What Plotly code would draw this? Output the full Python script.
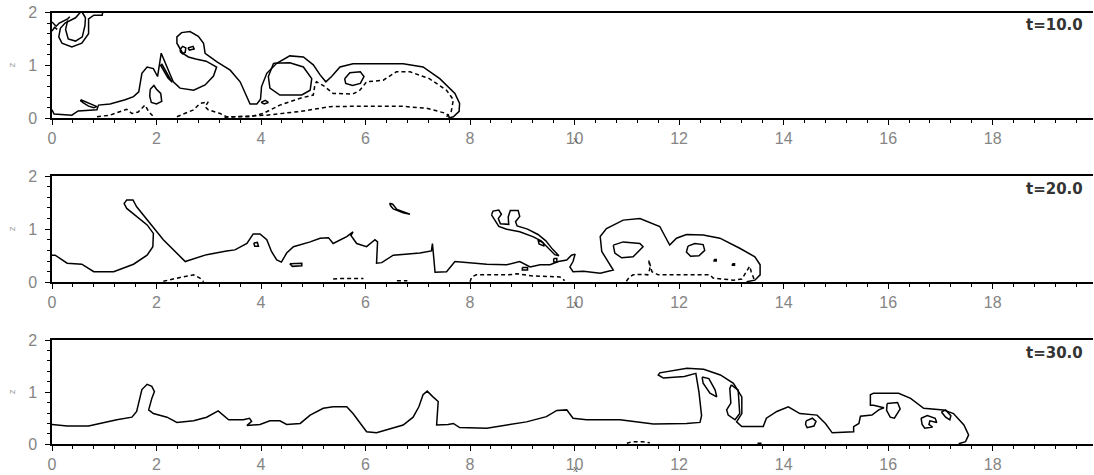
import plotly.graph_objects as go

# ---------------------------------------------------------------------------
# Density contours of a lock-exchange gravity current at three times.
# Each contour is a list of (x, z) points; solid = interface level,
# dashed = dense-core level.
# ---------------------------------------------------------------------------

TIMES = ["t=10.0", "t=20.0", "t=30.0"]
X_TICKS = [0, 2, 4, 6, 8, 10, 12, 14, 16, 18]
Z_TICKS = [0, 1, 2]

# ---- t = 10 ---------------------------------------------------------------
T10_OUTLINE = [(0.0, 0.16), (0.04, 0.08), (0.38, 0.06), (0.50, 0.14), (0.86, 0.16),
               (0.89, 0.25), (1.11, 0.27), (1.40, 0.35), (1.56, 0.41), (1.66, 0.50),
               (1.72, 0.85), (1.82, 0.97), (1.94, 0.94), (2.02, 0.79), (2.09, 1.23),
               (2.20, 0.97), (2.32, 0.69), (2.45, 0.57), (2.71, 0.53), (2.93, 0.63),
               (3.09, 0.80), (3.15, 0.97), (2.95, 1.08), (2.75, 1.12), (2.61, 1.16),
               (2.50, 1.23), (2.39, 1.42), (2.39, 1.54), (2.48, 1.62), (2.64, 1.64),
               (2.80, 1.55), (2.90, 1.42), (2.93, 1.23), (3.15, 1.07), (3.41, 0.91),
               (3.60, 0.69), (3.73, 0.41), (3.79, 0.27), (3.92, 0.27), (3.99, 0.36),
               (4.01, 0.60), (4.11, 0.85), (4.30, 1.04), (4.55, 1.18), (4.81, 1.16),
               (5.00, 1.01), (5.13, 0.82), (5.24, 0.69), (5.35, 0.79), (5.51, 0.97),
               (5.76, 1.03), (6.72, 1.03), (7.10, 0.97), (7.42, 0.75), (7.71, 0.47),
               (7.80, 0.28), (7.79, 0.13), (7.68, 0.03), (7.58, 0.0)]
T10_EYE_A = [(2.45, 1.30), (2.50, 1.36), (2.56, 1.33), (2.55, 1.25), (2.50, 1.22), (2.46, 1.25)]
T10_EYE_B = [(2.60, 1.33), (2.70, 1.36), (2.72, 1.31), (2.63, 1.29)]
T10_ROLL = [(4.24, 1.04), (4.55, 1.05), (4.81, 0.97), (4.97, 0.75), (4.94, 0.53),
            (4.78, 0.44), (4.36, 0.44), (4.17, 0.57), (4.14, 0.79)]
T10_ROLL_SMALL = [(5.60, 0.75), (5.70, 0.86), (5.90, 0.88), (5.97, 0.79), (5.90, 0.66),
                  (5.75, 0.62), (5.62, 0.66)]
T10_BLOB = [(1.88, 0.55), (1.95, 0.62), (2.00, 0.55), (2.08, 0.47), (2.10, 0.32),
            (2.00, 0.27), (1.90, 0.30), (1.87, 0.42)]
T10_SLIVER = [(2.10, 1.03), (2.18, 0.88), (2.30, 0.68), (2.22, 0.76), (2.12, 0.92), (2.08, 1.00)]
T10_TOP_OUTER = [(0.54, 2.0), (0.45, 1.90), (0.25, 1.80), (0.16, 1.70), (0.13, 1.54),
                 (0.19, 1.42), (0.38, 1.35), (0.57, 1.42), (0.70, 1.60), (0.70, 1.88),
                 (0.80, 1.95), (0.96, 1.95), (0.97, 2.0)]
T10_TOP_INNER = [(0.30, 1.85), (0.26, 1.68), (0.31, 1.50), (0.45, 1.46), (0.58, 1.54),
                 (0.63, 1.75), (0.64, 1.90), (0.58, 2.0)]
T10_TOP_EDGE = [(0.0, 1.82), (0.08, 1.74), (0.14, 1.80), (0.22, 1.84), (0.30, 1.88), (0.34, 1.92)]
T10_TOP_EDGE_B = [(0.0, 1.65), (0.05, 1.72), (0.10, 1.68)]
T10_TAIL = [(0.55, 0.35), (0.62, 0.32), (0.70, 0.28), (0.80, 0.25), (0.86, 0.22),
            (0.80, 0.20), (0.70, 0.23), (0.60, 0.29), (0.55, 0.33)]
T10_SPECK = [(4.00, 0.30), (4.08, 0.34), (4.14, 0.30), (4.06, 0.27)]
T10_CORE_A = [(0.86, 0.03), (1.11, 0.06), (1.43, 0.17), (1.53, 0.09), (1.65, 0.12),
              (1.78, 0.25), (1.85, 0.13), (1.94, 0.03)]
T10_CORE_B = [(2.39, 0.03), (2.71, 0.16), (2.83, 0.28), (2.99, 0.31), (2.93, 0.22),
              (2.99, 0.16), (3.22, 0.09), (3.34, 0.03), (3.79, 0.03), (4.04, 0.09),
              (4.36, 0.25), (4.75, 0.38), (5.00, 0.44), (5.03, 0.63), (5.06, 0.69),
              (5.22, 0.60), (5.38, 0.47), (5.76, 0.46), (5.89, 0.53), (6.02, 0.69),
              (6.34, 0.72), (6.59, 0.88), (6.85, 0.88), (7.22, 0.75), (7.55, 0.53),
              (7.68, 0.35), (7.64, 0.13), (7.55, 0.03)]
T10_CORE_C = [(3.30, 0.02), (4.11, 0.06), (4.75, 0.13), (5.32, 0.22), (6.02, 0.23),
              (6.66, 0.23), (7.17, 0.19), (7.55, 0.09), (7.61, 0.02)]

# ---- t = 20 ---------------------------------------------------------------
T20_OUTLINE = [(0.0, 0.51), (0.06, 0.51), (0.29, 0.36), (0.57, 0.34), (0.80, 0.20),
               (1.18, 0.20), (1.56, 0.34), (1.82, 0.51), (1.93, 0.67), (1.94, 0.92),
               (1.82, 1.08), (1.43, 1.39), (1.38, 1.48), (1.43, 1.55), (1.55, 1.55),
               (1.62, 1.42), (2.13, 0.80), (2.55, 0.39), (2.64, 0.42), (2.96, 0.52),
               (3.34, 0.59), (3.50, 0.61), (3.73, 0.73), (3.85, 0.91), (3.98, 0.91),
               (4.11, 0.80), (4.20, 0.58), (4.30, 0.42), (4.39, 0.38), (4.49, 0.55),
               (4.62, 0.67), (4.94, 0.76), (5.13, 0.83), (5.29, 0.84), (5.38, 0.73),
               (5.64, 0.86), (5.76, 0.95), (5.72, 0.88), (5.83, 0.73), (6.02, 0.67),
               (6.18, 0.80), (6.23, 0.76), (6.21, 0.36), (6.31, 0.37), (6.53, 0.51),
               (7.04, 0.55), (7.26, 0.59), (7.28, 0.73), (7.33, 0.19), (7.55, 0.20),
               (7.71, 0.39), (8.00, 0.36), (8.32, 0.34), (8.70, 0.33), (8.95, 0.39),
               (9.15, 0.29), (9.34, 0.33), (9.53, 0.33), (9.69, 0.39), (9.85, 0.42),
               (9.94, 0.51), (10.01, 0.53), (9.97, 0.39), (9.91, 0.29), (9.97, 0.20),
               (10.17, 0.21), (10.49, 0.17), (10.74, 0.23), (10.68, 0.33), (10.52, 0.58),
               (10.49, 0.86), (10.61, 1.01), (10.93, 1.17), (11.25, 1.20), (11.63, 1.05),
               (11.82, 0.70), (11.95, 0.83), (12.14, 0.90), (12.46, 0.89), (12.78, 0.83),
               (13.16, 0.64), (13.45, 0.48), (13.55, 0.33), (13.55, 0.14), (13.45, 0.04),
               (13.29, 0.01)]
T20_EYE_A = [(10.74, 0.70), (10.93, 0.76), (11.25, 0.73), (11.31, 0.67), (11.12, 0.48),
             (10.90, 0.46), (10.77, 0.55)]
T20_EYE_B = [(12.17, 0.68), (12.30, 0.73), (12.46, 0.71), (12.49, 0.60), (12.38, 0.50),
             (12.22, 0.49), (12.14, 0.57)]
T20_PLUME = [(8.41, 1.27), (8.44, 1.34), (8.55, 1.36), (8.60, 1.28), (8.54, 1.20),
             (8.58, 1.10), (8.74, 1.09), (8.73, 1.23), (8.77, 1.35), (8.92, 1.35),
             (8.95, 1.24), (8.87, 1.14), (8.90, 1.06), (9.10, 1.00), (9.30, 0.90),
             (9.45, 0.78), (9.58, 0.62), (9.70, 0.50), (9.62, 0.52), (9.50, 0.64),
             (9.36, 0.78), (9.20, 0.86), (8.95, 0.95), (8.70, 1.00), (8.55, 1.05),
             (8.48, 1.16)]
T20_PLUME_BIT_A = [(9.30, 0.80), (9.40, 0.74), (9.42, 0.68), (9.32, 0.72)]
T20_PLUME_BIT_B = [(9.60, 0.45), (9.66, 0.45), (9.66, 0.38), (9.60, 0.38)]
T20_PLUME_BIT_C = [(9.00, 0.28), (9.10, 0.28), (9.10, 0.23), (9.00, 0.23)]
T20_WISP = [(6.46, 1.49), (6.52, 1.47), (6.60, 1.37), (6.85, 1.28), (6.72, 1.31),
            (6.53, 1.38), (6.48, 1.44)]
T20_DOT_A = [(3.86, 0.74), (3.93, 0.75), (3.95, 0.68), (3.88, 0.68)]
T20_DOT_B = [(4.55, 0.35), (4.78, 0.36), (4.78, 0.31), (4.60, 0.30)]
T20_DOT_C = [(12.67, 0.43), (12.71, 0.43), (12.71, 0.40), (12.67, 0.40)]
T20_DOT_D = [(13.02, 0.35), (13.06, 0.35), (13.06, 0.32), (13.02, 0.32)]
T20_CORE_A = [(2.13, 0.02), (2.30, 0.05), (2.45, 0.09), (2.60, 0.12), (2.71, 0.14),
              (2.83, 0.08), (2.90, 0.01)]
T20_CORE_B = [(5.38, 0.06), (5.50, 0.07), (5.96, 0.07)]
T20_CORE_C = [(6.60, 0.03), (6.80, 0.03)]
T20_CORE_D = [(8.00, 0.01), (8.03, 0.10), (8.12, 0.14), (8.50, 0.14), (8.73, 0.14),
              (8.90, 0.16), (9.20, 0.12), (9.72, 0.10), (9.81, 0.03)]
T20_CORE_E = [(10.99, 0.02), (11.05, 0.10), (11.12, 0.14), (11.30, 0.15), (11.40, 0.14),
              (11.44, 0.25), (11.42, 0.42), (11.48, 0.20), (11.60, 0.14), (11.82, 0.14),
              (12.20, 0.14), (12.59, 0.14), (12.65, 0.08), (13.04, 0.04), (13.20, 0.06),
              (13.30, 0.22), (13.35, 0.30), (13.38, 0.20), (13.45, 0.02)]

# ---- t = 30 ---------------------------------------------------------------
T30_OUTLINE = [(0.0, 0.38), (0.29, 0.35), (0.70, 0.35), (0.92, 0.40), (1.24, 0.47),
               (1.53, 0.52), (1.62, 0.63), (1.72, 1.05), (1.82, 1.15), (1.91, 1.11),
               (1.96, 1.01), (1.91, 0.88), (1.85, 0.66), (1.94, 0.59), (2.20, 0.52),
               (2.39, 0.42), (2.71, 0.45), (2.96, 0.52), (3.18, 0.64), (3.38, 0.47),
               (3.66, 0.47), (3.78, 0.50), (3.82, 0.44), (3.73, 0.36), (3.98, 0.38),
               (4.17, 0.45), (4.36, 0.45), (4.49, 0.38), (4.75, 0.40), (4.94, 0.56),
               (5.19, 0.69), (5.38, 0.72), (5.64, 0.72), (5.76, 0.59), (6.02, 0.24),
               (6.21, 0.22), (6.46, 0.29), (6.72, 0.37), (6.91, 0.52), (7.02, 0.72),
               (7.10, 0.95), (7.18, 1.02), (7.29, 0.91), (7.39, 0.82), (7.36, 0.37),
               (7.58, 0.38), (7.68, 0.40), (7.80, 0.32), (8.32, 0.31), (8.70, 0.37),
               (9.08, 0.43), (9.46, 0.53), (9.66, 0.65), (9.85, 0.66), (9.97, 0.50),
               (10.23, 0.47), (10.87, 0.47), (11.51, 0.39), (12.14, 0.40), (12.40, 0.42),
               (12.43, 0.55), (12.38, 1.00), (12.32, 1.36), (12.10, 1.30), (11.70, 1.27),
               (11.60, 1.33), (11.63, 1.37), (12.15, 1.46), (12.47, 1.44), (12.79, 1.33),
               (13.04, 1.17), (13.20, 0.91), (13.20, 0.59), (13.10, 0.43), (13.20, 0.34),
               (13.61, 0.34), (13.67, 0.50), (13.87, 0.63), (14.09, 0.72), (14.31, 0.59),
               (14.64, 0.56), (14.80, 0.40), (14.93, 0.22), (15.34, 0.24), (15.34, 0.34),
               (15.44, 0.40), (15.47, 0.54), (15.69, 0.56), (15.82, 0.66), (15.92, 0.70),
               (15.72, 0.75), (15.66, 0.75), (15.66, 0.95), (15.72, 0.98), (16.20, 0.98),
               (16.43, 0.88), (16.68, 0.69), (17.06, 0.66), (17.25, 0.59), (17.45, 0.37),
               (17.54, 0.18), (17.48, 0.05), (17.35, 0.01)]
T30_ARM_EYE = [(12.44, 1.29), (12.57, 1.26), (12.69, 1.04), (12.72, 0.91), (12.59, 0.98),
               (12.46, 1.17)]
T30_CURTAIN = [(13.00, 1.14), (13.13, 1.04), (13.16, 0.59), (13.07, 0.47), (12.94, 0.56),
               (12.91, 0.66), (12.99, 0.79), (12.97, 1.07)]
T30_POCKET = [(14.43, 0.45), (14.55, 0.50), (14.62, 0.44), (14.58, 0.35), (14.45, 0.32),
              (14.42, 0.38)]
T30_HOOK_EYE = [(15.98, 0.78), (16.18, 0.80), (16.23, 0.68), (16.12, 0.50), (16.04, 0.52),
                (15.97, 0.65)]
T30_SQUIGGLE = [(16.63, 0.50), (16.75, 0.55), (16.90, 0.50), (16.93, 0.42), (16.80, 0.45),
                (16.78, 0.38), (16.85, 0.33), (16.70, 0.31), (16.65, 0.38)]
T30_SLIT = [(17.02, 0.62), (17.10, 0.66), (17.20, 0.55), (17.18, 0.47), (17.10, 0.52)]
T30_CORE_A = [(11.00, 0.02), (11.10, 0.05), (11.30, 0.05), (11.44, 0.03)]
T30_CORE_B = [(13.50, 0.02), (13.62, 0.02)]

# (curve, closed?, dashed?) per panel
PANELS = [
    [(T10_OUTLINE, False, False), (T10_EYE_A, True, False), (T10_EYE_B, True, False),
     (T10_ROLL, True, False), (T10_ROLL_SMALL, True, False), (T10_BLOB, True, False),
     (T10_SLIVER, True, False), (T10_TOP_OUTER, False, False), (T10_TOP_INNER, False, False),
     (T10_TOP_EDGE, False, False), (T10_TOP_EDGE_B, False, False), (T10_TAIL, True, False),
     (T10_SPECK, True, False), (T10_CORE_A, False, True), (T10_CORE_B, False, True),
     (T10_CORE_C, False, True)],
    [(T20_OUTLINE, False, False), (T20_EYE_A, True, False), (T20_EYE_B, True, False),
     (T20_PLUME, True, False), (T20_PLUME_BIT_A, True, False), (T20_PLUME_BIT_B, True, False),
     (T20_PLUME_BIT_C, True, False), (T20_WISP, True, False), (T20_DOT_A, True, False),
     (T20_DOT_B, True, False), (T20_DOT_C, True, False), (T20_DOT_D, True, False),
     (T20_CORE_A, False, True), (T20_CORE_B, False, True), (T20_CORE_C, False, True),
     (T20_CORE_D, False, True), (T20_CORE_E, False, True)],
    [(T30_OUTLINE, False, False), (T30_ARM_EYE, True, False), (T30_CURTAIN, True, False),
     (T30_POCKET, True, False), (T30_HOOK_EYE, True, False), (T30_SQUIGGLE, True, False),
     (T30_SLIT, True, False), (T30_CORE_A, False, True), (T30_CORE_B, False, True)],
]

W, H = 1094, 475
ML, MR = 52, 1
# vertical pixel extent (top, bottom) of each panel's plotting area
PANEL_PX = [(12.5, 118.3), (176.0, 282.3), (340.0, 444.3)]
X_LABEL_PY = [140, 304, 469]

TICK_GREY = "#858585"


def px_to_paper_x(px):
    return (px - ML) / (W - ML - MR)


def px_to_paper_y(py):
    return 1 - py / H


fig = go.Figure()
layout = dict(
    width=W, height=H,
    margin=dict(l=ML, r=MR, t=0, b=0, autoexpand=False),
    paper_bgcolor="white", plot_bgcolor="white",
    showlegend=False,
    annotations=[],
)

for i, curves in enumerate(PANELS):
    k = "" if i == 0 else str(i + 1)
    for pts, closed, dashed in curves:
        seq = list(pts) + ([pts[0]] if closed else [])
        fig.add_trace(go.Scatter(
            x=[p[0] for p in seq], y=[p[1] for p in seq],
            mode="lines",
            line=dict(color="black", width=1.5, dash="4px,3px" if dashed else "solid"),
            xaxis="x" + k, yaxis="y" + k, hoverinfo="skip",
        ))
    top, bot = PANEL_PX[i]
    layout["xaxis" + k] = dict(
        domain=[0, 1], range=[0, 19.92], anchor="y" + k, automargin=False,
        tickvals=X_TICKS, ticktext=[str(v) for v in X_TICKS],
        ticks="outside", ticklen=5, tickwidth=1, tickcolor="black",
        minor=dict(dtick=0.4, tick0=0, ticks="outside", ticklen=3, tickwidth=1, tickcolor="black"),
        showline=True, linecolor="black", linewidth=1.5, mirror=True,
        showgrid=False, zeroline=False,
        tickfont=dict(family="Liberation Sans, Arial", size=16, color=TICK_GREY),
    )
    layout["yaxis" + k] = dict(
        domain=[px_to_paper_y(bot), px_to_paper_y(top)], range=[0, 2], anchor="x" + k,
        automargin=False,
        tickvals=Z_TICKS, ticktext=[str(v) for v in Z_TICKS],
        ticks="outside", ticklen=5, tickwidth=1, tickcolor="black",
        minor=dict(dtick=0.2, tick0=0, ticks="outside", ticklen=3, tickwidth=1, tickcolor="black"),
        showline=True, linecolor="black", linewidth=1.5, mirror=False,
        showgrid=False, zeroline=False, ticklabelstandoff=5,
        tickfont=dict(family="Liberation Sans, Arial", size=16, color=TICK_GREY),
    )
    # time stamp, upper right
    layout["annotations"].append(dict(
        text="<b>" + TIMES[i] + "</b>", xref="paper", yref="paper",
        x=px_to_paper_x(1085), y=px_to_paper_y(top + 12.5), xanchor="right", yanchor="middle",
        showarrow=False, font=dict(family="DejaVu Sans", size=15, color="#333333"),
    ))
    # vertical coordinate label
    layout["annotations"].append(dict(
        text="z", xref="paper", yref="paper", textangle=-90,
        x=px_to_paper_x(12), y=px_to_paper_y((top + bot) / 2), xanchor="center", yanchor="middle",
        showarrow=False, font=dict(family="DejaVu Sans", size=9, color="#999999"),
    ))
    # horizontal coordinate label
    layout["annotations"].append(dict(
        text="<i>x</i>", xref="paper", yref="paper",
        x=px_to_paper_x(575), y=px_to_paper_y(X_LABEL_PY[i]), xanchor="center", yanchor="middle",
        showarrow=False, font=dict(family="DejaVu Serif", size=9, color="#555555"),
    ))

fig.update_layout(**layout)
fig.write_html("out.html")
